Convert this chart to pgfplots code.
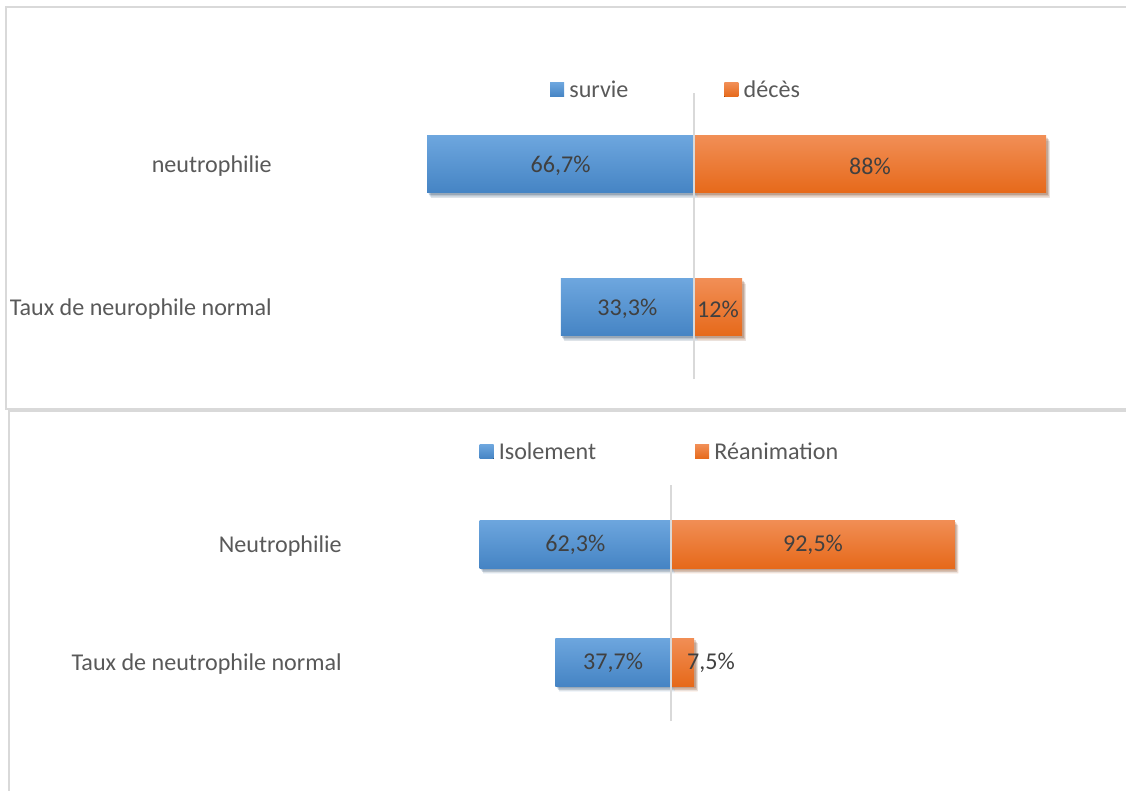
\documentclass[border=0pt]{standalone}
\usepackage{fontspec}
\setmainfont{Carlito}
\usepackage{pgfplots}
\pgfplotsset{compat=1.18}
\usetikzlibrary{shadows}

\definecolor{blueTop}{HTML}{6DA6DE}
\definecolor{blueBot}{HTML}{4584C4}
\definecolor{orTop}{HTML}{F18E55}
\definecolor{orBot}{HTML}{E6691A}
\definecolor{txtgray}{HTML}{595959}
\definecolor{valgray}{HTML}{404040}
\definecolor{rulegray}{HTML}{D9D9D9}

\newcommand\chartfont{\fontsize{24.1}{29}\selectfont}

\pgfplotsset{
  butterfly/.style={
    xbar, scale only axis,
    axis line style={draw=none}, tick style={draw=none},
    major tick length=0pt,
    xtick=\empty, ytick={0,1},
    ymin=-0.5, ymax=1.5,
    yticklabel style={anchor=east, inner xsep=0pt, yshift=-2pt, text=txtgray, font=\chartfont},
    legend style={draw=none, fill=none, font=\chartfont, text=txtgray,
      legend columns=2, anchor=center,
      /tikz/every even column/.append style={column sep=#1}},
    legend cell align=left,
    bar shift=0pt,
    point meta=x,
    visualization depends on={rawx \as \rawx},
    nodes near coords={\pgfmathparse{abs(\rawx)}\pgfmathprintnumber[fixed,precision=1,use comma,assume math mode=true]{\pgfmathresult}\%},
  },
  % soft shadow built from a few stacked translucent copies
  softshadow/.style={
    drop shadow={shadow xshift=1.5pt, shadow yshift=-2pt, opacity=0.12, fill=black},
    drop shadow={shadow xshift=2.5pt, shadow yshift=-3.5pt, opacity=0.10, fill=black},
    drop shadow={shadow xshift=3.5pt, shadow yshift=-5pt, opacity=0.08, fill=black}},
  bluebar/.style={draw=none, top color=blueTop, bottom color=blueBot, softshadow, forget plot},
  orangebar/.style={draw=none, top color=orTop, bottom color=orBot, softshadow, forget plot},
  bluekey/.style={legend image code/.code={
    \fill[draw=none, top color=blueTop, bottom color=blueBot] (0pt,-7pt) rectangle (14pt,7pt);
    \path (17pt,0pt);}},
  orangekey/.style={legend image code/.code={
    \fill[draw=none, top color=orTop, bottom color=orBot] (0pt,-7pt) rectangle (14pt,7pt);
    \path (17pt,0pt);}},
}

\begin{document}
\begin{tikzpicture}
\path[use as bounding box] (0,0) rectangle (1126pt,-791pt);

% chart frames
\draw[rulegray, line width=1.5pt] (1126pt,-7pt) -- (6pt,-7pt) -- (6pt,-409pt) -- (1126pt,-409pt);
\draw[rulegray, line width=1.5pt] (1126pt,-411pt) -- (9pt,-411pt) -- (9pt,-791pt);

% survie / deces
\begin{axis}[butterfly=94pt,
  at={(694pt,-236pt)}, anchor=center,
  width=844pt, height=286pt,
  xmin=-105.5, xmax=105.5,
  bar width=57pt,
  yticklabels={Taux de neurophile normal, neutrophilie},
  legend style={at={(0.4787,1.0115)}},
  every node near coord/.append style={anchor=center, text=valgray, font=\chartfont,
    xshift={-2*(\rawx)*1pt}, yshift=-1.5pt},
]
\addlegendimage{bluekey}
\addlegendimage{orangekey}
\addplot[bluebar] coordinates {(-66.7,1)};
\addplot[bluebar] coordinates {(-33.3,0)};
\addplot[orangebar] coordinates {(88,1)};
\addplot[orangebar] coordinates {(12,0)};
\legend{survie, décès}
\draw[rulegray, line width=1.8pt] (axis cs:0,-0.5) -- (axis cs:0,1.5);
\end{axis}

% isolement / reanimation
\begin{axis}[butterfly=97pt,
  at={(671pt,-603pt)}, anchor=center,
  width=658.2pt, height=236pt,
  xmin=-107.2, xmax=107.2,
  bar width=48pt,
  yticklabels={Taux de neutrophile normal, Neutrophilie},
  legend style={at={(0.4831,1.1411)}},
  every node near coord/.append style={anchor=center, text=valgray, font=\chartfont,
    xshift={-1.535*(\rawx)*1pt}, yshift=-1pt},
]
\addlegendimage{bluekey}
\addlegendimage{orangekey}
\addplot[bluebar] coordinates {(-62.3,1)};
\addplot[bluebar] coordinates {(-37.7,0)};
\addplot[orangebar] coordinates {(92.5,1)};
\addplot[orangebar, every node near coord/.append style={xshift=28.5pt}] coordinates {(7.5,0)};
\legend{Isolement, Réanimation}
\draw[rulegray, line width=1.8pt] (axis cs:0,-0.5) -- (axis cs:0,1.5);
\end{axis}
\end{tikzpicture}
\end{document}
